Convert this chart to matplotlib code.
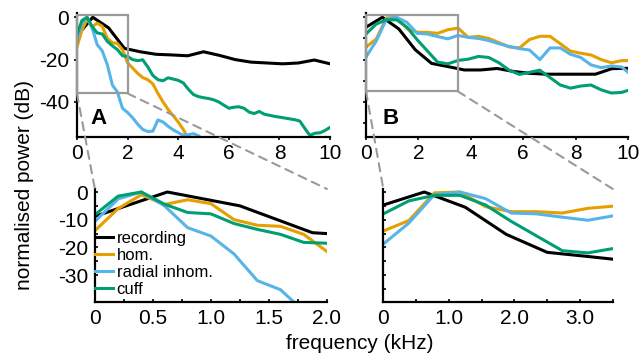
import numpy as np
import matplotlib
matplotlib.use("Agg")
import matplotlib.pyplot as plt
from matplotlib.patches import Rectangle, ConnectionPatch

plt.rcParams['font.family'] = ['Liberation Sans', 'DejaVu Sans']
plt.rcParams['axes.unicode_minus'] = False

# ---------------- data ----------------
# Panel A (recording step 0.625 kHz, models step 0.2 kHz)
freq_rec = np.arange(17) * 0.625
rec_A = [-8.8, 0.0, -5.0, -14.7, -16.3, -17.5, -17.8, -18.2, -16.3, -18.0,
         -20.0, -21.2, -21.6, -22.0, -21.6, -20.2, -22.0]
freq_modA = np.arange(51) * 0.2
hom_A = [-14, -6, -1, -4.5, -2.8, -4.2, -10, -12, -12.4, -15.3, -21.5, -24,
         -26.5, -28.5, -29.5, -31.5, -36, -40, -43.5, -46.5, -49.5, -53, -57.5, -61] + [np.nan] * 27
rad_A = [-10.6, -2.5, 0, -5, -12.9, -15.9, -22.4, -32, -35.3, -43, -45, -47.5,
         -50.5, -53, -54, -53.8, -48.5, -49.5, -51.5, -53.2, -54.5, -55.8, -55.5,
         -55, -56, -58, -60] + [np.nan] * 24
cuff_A = [-8.2, -1.5, 0, -4.4, -7.4, -7.9, -11.4, -13.5, -15.3, -18.2, -18.5,
          -20, -20.5, -20.1, -23.5, -27.5, -29.5, -30, -28.6, -29.2, -29.8,
          -31, -34, -36.5, -37.5, -38, -38.4, -39, -40, -41.5, -43, -42.5, -42.3,
          -43, -44.8, -45.5, -44.5, -45.8, -46.3, -46.8, -47.2, -47.6, -48, -48.4,
          -49, -52.5, -55.8, -54.8, -54.6, -53.5, -52]

# Panel B (recording step 0.625 kHz, models step 0.39 kHz)
rec_B = [-4.7, 0.0, -5.5, -15.3, -21.8, -23.3, -24.9, -24.9, -24.2, -25.6,
         -26.5, -26.9, -26.9, -26.9, -26.9, -24.3, -24.1]
freq_modB = np.arange(27) * 0.39
hom_B = [-14.1, -10.3, -0.3, 0, -5.3, -7.1, -7.1, -7.6, -5.9, -5.1, -9.5, -9,
         -10, -12, -14, -14.5, -10.5, -9, -9, -12.5, -16, -17, -17.8, -20, -21.5,
         -20.5, -20.4]
rad_B = [-18.8, -11.2, -0.9, 0, -2.4, -7.6, -7.9, -9.1, -10.2, -8.6, -9.5, -10,
         -11, -12.5, -13.8, -14.8, -15.5, -20, -14.5, -14.5, -17.5, -19, -22.5,
         -23.8, -23, -23.5, -27.5]
cuff_B = [-7.9, -3.2, -1.2, -1.2, -4.7, -10.6, -15.9, -21.2, -22, -20.4, -19.8,
          -18.5, -19, -21.5, -25, -27, -26, -25, -28.5, -32, -33.5, -32.5, -32,
          -34.3, -35.8, -35.5, -34]

labels = ['recording', 'hom.', 'radial inhom.', 'cuff']
colors = ['black', '#E69F00', '#56B4E9', '#009E73']

zoomA = (0.0, 2.0, -36.0, 1.0)
zoomB = (0.0, 3.5, -35.0, 1.0)

# ---------------- figure ----------------
fig = plt.figure(figsize=(6.41, 3.62), dpi=100)
axA = fig.add_axes([0.120, 0.622, 0.395, 0.342])
axB = fig.add_axes([0.571, 0.622, 0.409, 0.342])
axC = fig.add_axes([0.148, 0.166, 0.362, 0.312])
axD = fig.add_axes([0.598, 0.166, 0.358, 0.312])

LW = 2.2
def draw(ax, frec, rec, fmod, hom, rad, cuff):
    lines = []
    lines += ax.plot(frec, rec, color=colors[0], lw=LW, label=labels[0])
    lines += ax.plot(fmod, hom, color=colors[1], lw=LW, label=labels[1])
    lines += ax.plot(fmod, rad, color=colors[2], lw=LW, label=labels[2])
    lines += ax.plot(fmod, cuff, color=colors[3], lw=LW, label=labels[3])
    return lines

draw(axA, freq_rec, rec_A, freq_modA, hom_A, rad_A, cuff_A)
draw(axB, freq_rec, rec_B, freq_modB, hom_B, rad_B, cuff_B)
lines = draw(axC, freq_rec, rec_A, freq_modA, hom_A, rad_A, cuff_A)
draw(axD, freq_rec, rec_B, freq_modB, hom_B, rad_B, cuff_B)

for ax in (axA, axB, axC, axD):
    for s in ('top', 'right'):
        ax.spines[s].set_visible(False)
    for s in ('left', 'bottom'):
        ax.spines[s].set_linewidth(1.6)

TFS = 15
for ax in (axA, axB):
    ax.set_xlim(0, 10)
    ax.set_ylim(-56.5, 2)
    ax.set_xticks([0, 2, 4, 6, 8, 10])
    ax.tick_params(direction='out', length=2.5, width=1.2, labelsize=TFS, pad=3)
axA.set_yticks([0, -20, -40])
axB.set_yticks([0, -10, -20, -30, -40, -50])
axB.set_yticklabels([])

for ax in (axC, axD):
    ax.set_ylim(-39.7, 1.1)
    ax.set_yticks([0, -5, -10, -15, -20, -25, -30, -35])
    ax.tick_params(direction='in', length=2.5, width=1.2, labelsize=TFS, pad=5)
    ax.tick_params(which='minor', direction='in', length=2.5, width=1.2)
axC.set_yticklabels(['0', '', '-10', '', '-20', '', '-30', ''])
axD.set_yticklabels([])
axC.set_xlim(0, 2)
axC.set_xticks([0, 0.5, 1.0, 1.5, 2.0])
axC.set_xticklabels(['0', '0.5', '1.0', '1.5', '2.0'])
axC.set_xticks([0.25, 0.75, 1.25, 1.75], minor=True)
axD.set_xlim(0, 3.5)
axD.set_xticks([0, 1, 2, 3])
axD.set_xticklabels(['0', '1.0', '2.0', '3.0'])
axD.set_xticks([0.5, 1.5, 2.5, 3.5], minor=True)

# zoom boxes and connectors
box_col = '#9a9a9a'
for ax, z, axz in ((axA, zoomA, axC), (axB, zoomB, axD)):
    x0, x1, y0, y1 = z
    ax.add_patch(Rectangle((x0, y0), x1 - x0, y1 - y0, fill=False,
                           edgecolor=box_col, lw=1.6, clip_on=False, zorder=5))
    for (xa, xb) in ((x0, 0), (x1, 1)):
        con = ConnectionPatch(xyA=(xa, y0), coordsA=ax.transData,
                              xyB=(xb, 1), coordsB=axz.transAxes,
                              color=box_col, lw=1.5, ls=(0, (4, 3)))
        fig.add_artist(con)

axA.text(0.085, 0.145, 'A', transform=axA.transAxes, fontsize=16,
         fontweight='bold', ha='center', va='center')
axB.text(0.092, 0.15, 'B', transform=axB.transAxes, fontsize=16,
         fontweight='bold', ha='center', va='center')

axC.legend(handles=lines, loc='upper left', bbox_to_anchor=(0.0, 0.63),
           frameon=False, fontsize=12, handlelength=1.1, handletextpad=0.2,
           labelspacing=0.12, borderpad=0, borderaxespad=0)

fig.text(25 / 641, 0.49, 'normalised power (dB)', rotation=90,
         ha='center', va='center', fontsize=15)
fig.text(0.562, 0.052, 'frequency (kHz)', ha='center', va='center', fontsize=15)

fig.savefig('out.png', dpi=100)
